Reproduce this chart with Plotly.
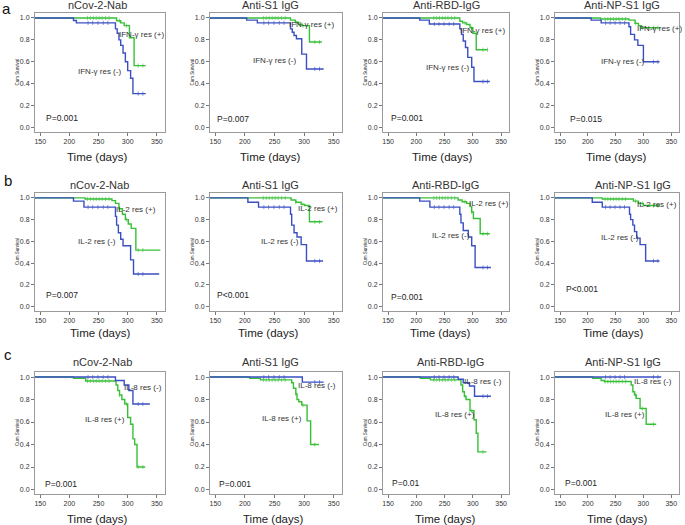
import plotly.graph_objects as go

W, H = 685, 525
BLUE = "#3a4fc2"
GREEN = "#37c037"
FONT = "Liberation Sans, Arial, sans-serif"

PANEL_TITLES = ["nCov-2-Nab", "Anti-S1 IgG", "Anti-RBD-IgG", "Anti-NP-S1 IgG"] * 3
ROW_LETTERS = ["a", "b", "c"]
GROUP_NAMES = ["IFN-γ res", "IL-2 res", "IL-8 res"]
P_VALUES = ["P=0.001", "P=0.007", "P=0.001", "P=0.015",
            "P=0.007", "P<0.001", "P=0.001", "P<0.001",
            "P=0.001", "P=0.001", "P=0.01", "P=0.001"]
X_TICKS = [150, 200, 250, 300, 350]
Y_TICKS = [0.0, 0.2, 0.4, 0.6, 0.8, 1.0]

# ---- Kaplan-Meier step data (time in days, cumulative survival) ----
# row a : IFN-gamma  (blue = res (-), green = res (+))
a1_blue_t = [0, 207, 212, 279, 282, 285, 288, 292, 296, 300, 305, 309, 331]
a1_blue_s = [1, 0.976, 0.955, 0.9, 0.86, 0.8, 0.75, 0.68, 0.6, 0.52, 0.45, 0.31, 0.31]
a1_green_t = [0, 281, 288, 294, 303, 311, 331]
a1_green_s = [1, 0.975, 0.955, 0.93, 0.82, 0.565, 0.565]

a2_blue_t = [0, 203, 221, 277, 280, 283, 287, 296, 304, 333]
a2_blue_s = [1, 0.98, 0.955, 0.9, 0.87, 0.84, 0.81, 0.67, 0.535, 0.535]
a2_green_t = [0, 277, 285, 291, 297, 309, 330]
a2_green_s = [1, 0.98, 0.96, 0.94, 0.93, 0.78, 0.78]

a3_blue_t = [0, 206, 223, 277, 280, 283, 287, 291, 298, 302, 330]
a3_blue_s = [1, 0.98, 0.945, 0.9, 0.85, 0.79, 0.73, 0.64, 0.55, 0.42, 0.42]
a3_green_t = [0, 277, 282, 289, 295, 300, 306, 326]
a3_green_s = [1, 0.97, 0.955, 0.94, 0.91, 0.86, 0.71, 0.71]

a4_blue_t = [0, 206, 224, 274, 277, 284, 290, 300, 329]
a4_blue_s = [1, 0.98, 0.955, 0.92, 0.85, 0.8, 0.75, 0.6, 0.6]
a4_green_t = [0, 223, 274, 285, 291, 296, 330]
a4_green_s = [1, 0.99, 0.98, 0.95, 0.93, 0.91, 0.91]

# row b : IL-2  (blue = res (-), green = res (+))
b1_blue_t = [0, 207, 225, 279, 281, 284, 288, 292, 305, 310, 354]
b1_blue_s = [1, 0.97, 0.915, 0.83, 0.75, 0.68, 0.62, 0.56, 0.43, 0.3, 0.3]
b1_green_t = [0, 227, 273, 279, 285, 291, 296, 301, 306, 314, 356]
b1_green_s = [1, 0.99, 0.975, 0.95, 0.9, 0.85, 0.8, 0.76, 0.72, 0.52, 0.52]

b2_blue_t = [0, 205, 223, 277, 279, 283, 288, 295, 304, 332]
b2_blue_s = [1, 0.96, 0.915, 0.85, 0.75, 0.68, 0.64, 0.57, 0.42, 0.42]
b2_green_t = [0, 278, 286, 295, 301, 309, 331]
b2_green_s = [1, 0.98, 0.96, 0.94, 0.93, 0.78, 0.78]

b3_blue_t = [0, 206, 224, 277, 279, 283, 292, 298, 304, 332]
b3_blue_s = [1, 0.97, 0.915, 0.85, 0.77, 0.7, 0.64, 0.56, 0.36, 0.36]
b3_green_t = [0, 274, 281, 289, 295, 298, 301, 313, 330]
b3_green_s = [1, 0.98, 0.965, 0.95, 0.92, 0.87, 0.81, 0.67, 0.67]

b4_blue_t = [0, 208, 226, 275, 277, 281, 284, 288, 294, 304, 329]
b4_blue_s = [1, 0.96, 0.915, 0.85, 0.8, 0.75, 0.69, 0.63, 0.57, 0.42, 0.42]
b4_green_t = [0, 226, 282, 291, 300, 330]
b4_green_s = [1, 0.99, 0.97, 0.95, 0.93, 0.93]

# row c : IL-8  (blue = res (-), green = res (+))
c1_blue_t = [0, 279, 294, 302, 309, 338]
c1_blue_s = [1, 0.97, 0.93, 0.88, 0.76, 0.76]
c1_green_t = [0, 207, 228, 280, 283, 286, 290, 295, 300, 305, 309, 312, 316, 330]
c1_green_s = [1, 0.99, 0.965, 0.93, 0.88, 0.84, 0.8, 0.76, 0.64, 0.58, 0.45, 0.4, 0.2, 0.2]

c2_blue_t = [0, 297, 333]
c2_blue_s = [1, 0.955, 0.955]
c2_green_t = [0, 208, 226, 279, 282, 286, 288, 291, 296, 305, 311, 325]
c2_green_s = [1, 0.99, 0.975, 0.95, 0.9, 0.85, 0.8, 0.78, 0.75, 0.61, 0.4, 0.4]

c3_blue_t = [0, 274, 283, 294, 303, 332]
c3_blue_s = [1, 0.98, 0.95, 0.92, 0.83, 0.83]
c3_green_t = [0, 207, 225, 279, 282, 285, 288, 295, 302, 306, 309, 324]
c3_green_s = [1, 0.99, 0.975, 0.93, 0.87, 0.83, 0.8, 0.7, 0.62, 0.5, 0.335, 0.335]

c4_blue_t = [0, 332]
c4_blue_s = [1, 1]
c4_green_t = [0, 209, 224, 230, 278, 281, 284, 287, 294, 305, 323]
c4_green_s = [1, 0.99, 0.97, 0.96, 0.93, 0.87, 0.84, 0.81, 0.72, 0.58, 0.58]

CURVES = [
    (a1_blue_t, a1_blue_s, a1_green_t, a1_green_s),
    (a2_blue_t, a2_blue_s, a2_green_t, a2_green_s),
    (a3_blue_t, a3_blue_s, a3_green_t, a3_green_s),
    (a4_blue_t, a4_blue_s, a4_green_t, a4_green_s),
    (b1_blue_t, b1_blue_s, b1_green_t, b1_green_s),
    (b2_blue_t, b2_blue_s, b2_green_t, b2_green_s),
    (b3_blue_t, b3_blue_s, b3_green_t, b3_green_s),
    (b4_blue_t, b4_blue_s, b4_green_t, b4_green_s),
    (c1_blue_t, c1_blue_s, c1_green_t, c1_green_s),
    (c2_blue_t, c2_blue_s, c2_green_t, c2_green_s),
    (c3_blue_t, c3_blue_s, c3_green_t, c3_green_s),
    (c4_blue_t, c4_blue_s, c4_green_t, c4_green_s),
]

# censor tick times (small vertical marks on the curves)
CENSOR_GREEN = [231, 236, 241, 246, 251, 256, 262, 268, 286, 298, 318, 326]
CENSOR_BLUE = [232, 240, 249, 258, 266, 318, 326]

# label positions (time, survival) for "(+)" , "(-)" and P text
LABEL_PLUS = [(282, 0.85), (271, 0.94), (273, 0.885), (285, 0.90),
              (276, 0.89), (287, 0.90), (289, 0.95), (285, 0.94),
              (224, 0.62), (225, 0.63), (229, 0.67), (227, 0.67)]
LABEL_MINUS = [(212, 0.51), (211, 0.61), (214, 0.55), (220, 0.60),
               (211, 0.60), (223, 0.60), (224, 0.65), (221, 0.64),
               (290, 0.905), (287, 0.925), (280, 0.96), (279, 0.963)]
P_POS = [(157, 0.085), (149, 0.077), (152, 0.088), (165, 0.078),
         (157, 0.108), (150, 0.105), (151, 0.09), (158, 0.16),
         (154, 0.05), (153, 0.053), (153, 0.055), (156, 0.055)]

# ---- layout geometry (pixels) ----
COLS = [(35, 165), (210, 342), (383, 509), (555, 679)]
ROWS = [(13, 132), (193, 311), (372, 494)]
TITLE_X = [[97, 270, 446, 622], [100, 270, 445, 633], [102, 270, 450, 623]]
TITLE_Y = [5, 185, 362]
XLAB_X = [[97, 270, 442, 616], [100, 268, 440, 613], [97, 273, 445, 617]]
XLAB_Y = [157, 333, 519]
LETTER_POS = [(6, 9), (8, 180), (8, 354)]
X_RANGE = [141, 364]
Y_RANGE = [-0.04, 1.045]


def px(x):
    return x / W


def py(y):
    return 1 - y / H


def step_value(ts, ss, t):
    v = ss[0]
    for ti, si in zip(ts, ss):
        if ti <= t:
            v = si
    return v


fig = go.Figure()
annotations = []
layout = {}

for i, (bt, bs, gt, gs) in enumerate(CURVES):
    r, c = divmod(i, 4)
    n = i + 1
    xs = "" if n == 1 else str(n)
    x0, x1 = COLS[c]
    y0, y1 = ROWS[r]
    axis_common = dict(showline=True, mirror=True, linecolor="#9a9a9a", linewidth=1,
                       ticks="outside", ticklen=3, tickcolor="#777", showgrid=False,
                       zeroline=False, tickfont=dict(size=7, color="#333", family=FONT))
    layout["xaxis" + xs] = dict(axis_common, domain=[px(x0), px(x1)], range=X_RANGE,
                                tickvals=X_TICKS, anchor="y" + xs)
    layout["yaxis" + xs] = dict(axis_common, domain=[py(y1), py(y0)], range=Y_RANGE,
                                tickvals=Y_TICKS, ticktext=["%.1f" % v for v in Y_TICKS],
                                anchor="x" + xs)

    for ts, ss, col, cens in ((gt, gs, GREEN, CENSOR_GREEN), (bt, bs, BLUE, CENSOR_BLUE)):
        fig.add_trace(go.Scatter(x=ts, y=ss, mode="lines", xaxis="x" + xs, yaxis="y" + xs,
                                 line=dict(shape="hv", color=col, width=1.4),
                                 showlegend=False, hoverinfo="skip"))
        ct = [t for t in cens if t <= ts[-1]]
        cv = [step_value(ts, ss, t) for t in ct]
        fig.add_trace(go.Scatter(x=ct, y=cv, mode="markers", xaxis="x" + xs, yaxis="y" + xs,
                                 marker=dict(symbol="line-ns", size=3,
                                             line=dict(color=col, width=0.6)),
                                 showlegend=False, hoverinfo="skip"))

    g = GROUP_NAMES[r]
    lab_font = dict(size=8, color="#333", family=FONT)
    annotations.append(dict(x=LABEL_PLUS[i][0], y=LABEL_PLUS[i][1], xref="x" + xs, yref="y" + xs,
                            text=g + " (+)", showarrow=False, xanchor="left", yanchor="middle",
                            font=lab_font))
    annotations.append(dict(x=LABEL_MINUS[i][0], y=LABEL_MINUS[i][1], xref="x" + xs, yref="y" + xs,
                            text=g + " (-)", showarrow=False, xanchor="left", yanchor="middle",
                            font=lab_font))
    annotations.append(dict(x=P_POS[i][0], y=P_POS[i][1], xref="x" + xs, yref="y" + xs,
                            text=P_VALUES[i], showarrow=False, xanchor="left", yanchor="middle",
                            font=dict(size=8.5, color="#222", family=FONT)))
    annotations.append(dict(x=px(TITLE_X[r][c]), y=py(TITLE_Y[r]), xref="paper", yref="paper",
                            text=PANEL_TITLES[i], showarrow=False, xanchor="center",
                            yanchor="middle", font=dict(size=11, color="#333", family=FONT)))
    annotations.append(dict(x=px(XLAB_X[r][c]), y=py(XLAB_Y[r]), xref="paper", yref="paper",
                            text="Time (days)", showarrow=False, xanchor="center",
                            yanchor="middle", font=dict(size=11.5, color="#222", family=FONT)))
    annotations.append(dict(x=px(x0 - 18), y=py((y0 + y1) / 2), xref="paper", yref="paper",
                            text="Cum Survival", showarrow=False, textangle=-90,
                            xanchor="center", yanchor="middle",
                            font=dict(size=4.5, color="#333", family=FONT)))

for k, letter in enumerate(ROW_LETTERS):
    lx, ly = LETTER_POS[k]
    annotations.append(dict(x=px(lx), y=py(ly), xref="paper", yref="paper", text=letter,
                            showarrow=False, xanchor="center", yanchor="middle",
                            font=dict(size=15, color="#111", family=FONT)))

fig.update_layout(width=W, height=H, margin=dict(l=0, r=0, t=0, b=0),
                  paper_bgcolor="white", plot_bgcolor="white",
                  annotations=annotations, **layout)

# remove the default page margin so the figure sits at the window's top-left corner
fig.write_html("out.html", config={"displayModeBar": False},
               post_script="document.body.style.margin='0';document.body.style.overflow='hidden';")
